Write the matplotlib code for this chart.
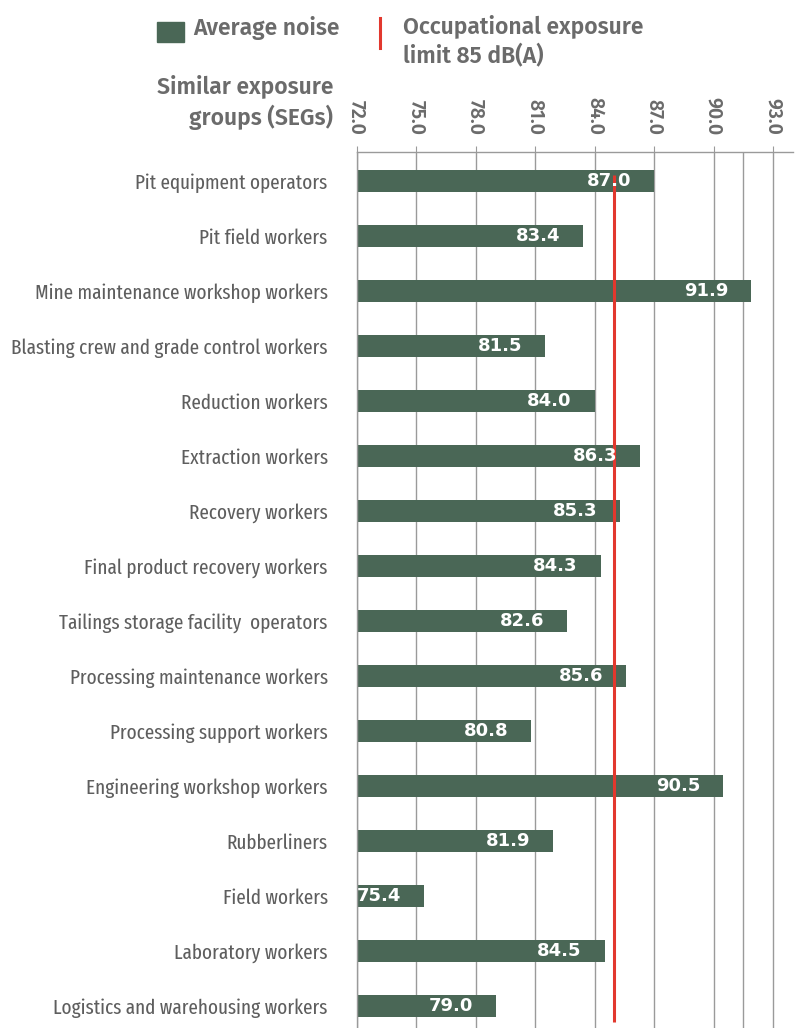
import matplotlib
matplotlib.use("Agg")
import matplotlib.pyplot as plt
from matplotlib.patches import Rectangle
from matplotlib.lines import Line2D

categories = [
    "Pit equipment operators",
    "Pit field workers",
    "Mine maintenance workshop workers",
    "Blasting crew and grade control workers",
    "Reduction workers",
    "Extraction workers",
    "Recovery workers",
    "Final product recovery workers",
    "Tailings storage facility  operators",
    "Processing maintenance workers",
    "Processing support workers",
    "Engineering workshop workers",
    "Rubberliners",
    "Field workers",
    "Laboratory workers",
    "Logistics and warehousing workers",
]
average_noise = [87.0, 83.4, 91.9, 81.5, 84.0, 86.3, 85.3, 84.3, 82.6, 85.6,
                 80.8, 90.5, 81.9, 75.4, 84.5, 79.0]
exposure_limit = 85.0
tick_values = [72.0, 75.0, 78.0, 81.0, 84.0, 87.0, 90.0, 93.0]
extra_grid = [91.5]

BAR = "#4a6756"
RED = "#e2382e"
GREY = "#6b6b6b"
LABEL = "#5e5e5e"
GRID = "#9a9a9a"
NARROW = ["Fira Sans Extra Condensed", "DejaVu Sans"]
BOLD = ["Fira Sans", "DejaVu Sans"]

fig = plt.figure(figsize=(8, 10.28), dpi=100)
ax = fig.add_axes([0.446, 0.0, 0.545, 1 - 151.7 / 1028])

y = list(range(len(categories)))
ax.barh(y, [v - tick_values[0] for v in average_noise], left=tick_values[0],
        height=0.4, color=BAR, zorder=2)

for yi, v in zip(y, average_noise):
    ax.text(v - 1.15, yi, f"{v:.1f}", ha="right", va="center", color="white",
            fontsize=13, fontweight="bold", family="DejaVu Sans", zorder=4)

ax.vlines(exposure_limit, -0.1, 15.3, color=RED, lw=2.2, zorder=3)

ax.set_xlim(72.0, 94.0)
ax.set_ylim(15.4, -0.53)

for t in tick_values + extra_grid:
    ax.axvline(t, color=GRID, lw=1, zorder=1)

ax.xaxis.tick_top()
ax.set_xticks(tick_values)
ax.set_xticklabels([f"{t:.1f}" for t in tick_values], rotation=-90,
                   color=GREY, fontsize=14, fontweight="semibold", family=BOLD)
ax.tick_params(axis="x", length=4, color=GRID, pad=8)
ax.set_yticks(y)
ax.set_yticklabels(categories, color=LABEL, fontsize=15, fontweight="normal", family=NARROW)
ax.tick_params(axis="y", length=0, pad=21)

for s in ["right", "bottom"]:
    ax.spines[s].set_visible(False)
for s in ["top", "left"]:
    ax.spines[s].set_color(GRID)
    ax.spines[s].set_linewidth(1)

hdr = dict(color=GREY, fontsize=16.5, fontweight="semibold", family=BOLD)
# header
fig.text(333 / 800, 1 - 86 / 1028, "Similar exposure", ha="right", va="center", **hdr)
fig.text(333 / 800, 1 - 117 / 1028, "groups (SEGs)", ha="right", va="center", **hdr)

# legend
fig.patches.append(Rectangle((157 / 800, 1 - 42 / 1028), 27 / 800, 20 / 1028,
                             transform=fig.transFigure, color=BAR))
fig.text(193 / 800, 1 - 28 / 1028, "Average noise", ha="left", va="center", **hdr)
fig.lines.append(Line2D([380 / 800, 380 / 800], [1 - 18 / 1028, 1 - 48 / 1028],
                        transform=fig.transFigure, color=RED, lw=2.2))
fig.text(403 / 800, 1 - 26 / 1028, "Occupational exposure", ha="left", va="center", **hdr)
fig.text(403 / 800, 1 - 56 / 1028, "limit 85 dB(A)", ha="left", va="center", **hdr)

fig.savefig("out.png", dpi=100)
